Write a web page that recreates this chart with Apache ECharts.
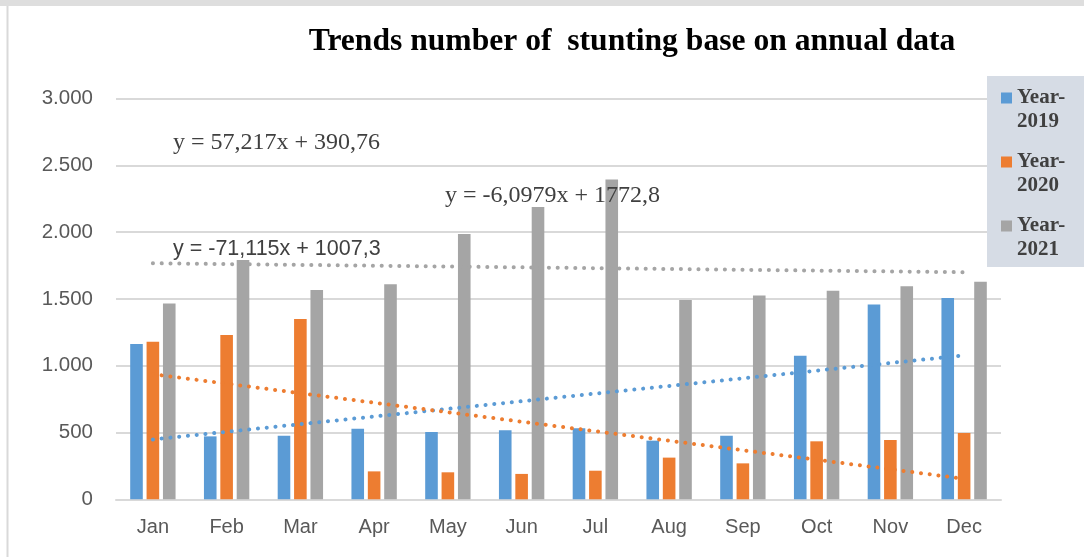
<!DOCTYPE html>
<html>
<head>
<meta charset="utf-8">
<script src="https://cdn.jsdelivr.net/npm/echarts@6/dist/echarts.min.js"></script>
<style>
html,body{margin:0;padding:0;background:#fff;}
#chart{width:1084px;height:557px;}
</style>
</head>
<body>
<div id="chart"></div>
<script>
const months = ['Jan','Feb','Mar','Apr','May','Jun','Jul','Aug','Sep','Oct','Nov','Dec'];
const seriesNames = ['Year-2019','Year-2020','Year-2021'];
const year2019 = [1162, 471, 476, 529, 504, 516, 531, 439, 476, 1075, 1459, 1506];
const year2020 = [1180, 1230, 1349, 209, 202, 190, 214, 312, 269, 434, 444, 496];
const year2021 = [1466, 1791, 1566, 1609, 1985, 2187, 2394, 1491, 1526, 1561, 1594, 1629];
// linear trendline coefficients shown on the chart (y = slope * x + intercept, x = 1..12)
const trendSlope = [57.217, -71.115, -6.0979];
const trendIntercept = [390.76, 1007.3, 1772.8];
const yTicks = [0, 500, 1000, 1500, 2000, 2500, 3000];

const colors = ['#5b9bd5', '#ed7d31', '#a5a5a5'];
const values = [year2019, year2020, year2021];

function trendData(i) {
  return months.map((m, k) => +(trendSlope[i] * (k + 1) + trendIntercept[i]).toFixed(2));
}
function fmtNum(v) {
  return String(v).replace('.', ',');
}
function eqText(i) {
  return 'y = ' + fmtNum(trendSlope[i]) + 'x + ' + fmtNum(trendIntercept[i]);
}

const chart = echarts.init(document.getElementById('chart'));

const barSeries = values.map((arr, i) => ({
  name: seriesNames[i],
  type: 'bar',
  data: arr,
  barWidth: 12.6,
  barGap: '30%',
  itemStyle: { color: colors[i] },
  z: 2
}));
const trendSeries = values.map((arr, i) => ({
  name: 'trend' + i,
  type: 'line',
  data: trendData(i),
  symbol: 'none',
  silent: true,
  lineStyle: { color: colors[i], width: 4, type: [0.1, 8.7], cap: 'round' },
  z: 5
}));

const option = {
  animation: false,
  backgroundColor: '#ffffff',
  title: {
    text: 'Trends number of  stunting base on annual data',
    left: 627,
    textAlign: 'center',
    top: 21,
    textStyle: { fontFamily: 'Liberation Serif', fontWeight: 'bold', fontSize: 31.6, color: '#000000' }
  },
  grid: { left: 116, right: 83, top: 98.5, bottom: 57.7, containLabel: false },
  legend: {
    orient: 'vertical',
    left: 1001,
    top: 62,
    padding: 0,
    itemWidth: 11,
    itemHeight: 11,
    itemGap: -8,
    icon: 'rect',
    z: 10,
    data: seriesNames,
    formatter: function (n) { return ' \n' + n.replace('-', '-\n'); },
    textStyle: {
      fontFamily: 'Liberation Serif', fontWeight: 'bold', fontSize: 21, color: '#404040',
      lineHeight: 24
    }
  },
  xAxis: {
    type: 'category',
    data: months,
    axisLine: { lineStyle: { color: '#d9d9d9', width: 2 } },
    axisTick: { show: false },
    axisLabel: { color: '#595959', fontFamily: 'Liberation Sans', fontSize: 20, margin: 18 }
  },
  yAxis: {
    type: 'value',
    min: yTicks[0],
    max: yTicks[yTicks.length - 1],
    interval: yTicks[1] - yTicks[0],
    axisLine: { show: false },
    axisTick: { show: false },
    splitLine: { lineStyle: { color: '#d9d9d9', width: 2 } },
    axisLabel: {
      color: '#595959', fontFamily: 'Liberation Sans', fontSize: 20.5, margin: 23,
      formatter: function (v) { return v === 0 ? '0' : v.toLocaleString('de-DE'); }
    }
  },
  graphic: [
    { type: 'rect', z: 0, silent: true, shape: { x: 0, y: 0, width: 1084, height: 6 }, style: { fill: '#dedede' } },
    { type: 'rect', z: 0, silent: true, shape: { x: 6.5, y: 6, width: 2, height: 551 }, style: { fill: '#d9d9d9' } },
    { type: 'rect', z: 6, silent: true, shape: { x: 987, y: 76, width: 97, height: 191 }, style: { fill: '#d6dce5' } },
    { type: 'text', z: 7, silent: true, left: 173, top: 131,
      style: { text: eqText(0), fontFamily: 'Liberation Serif', fontSize: 24, fill: '#404040' } },
    { type: 'text', z: 7, silent: true, left: 173, top: 238,
      style: { text: eqText(1), fontFamily: 'Liberation Sans', fontSize: 21.5, fill: '#404040' } },
    { type: 'text', z: 7, silent: true, left: 445, top: 184,
      style: { text: eqText(2), fontFamily: 'Liberation Serif', fontSize: 24, fill: '#404040' } }
  ],
  series: barSeries.concat(trendSeries)
};
chart.setOption(option);
</script>
</body>
</html>
